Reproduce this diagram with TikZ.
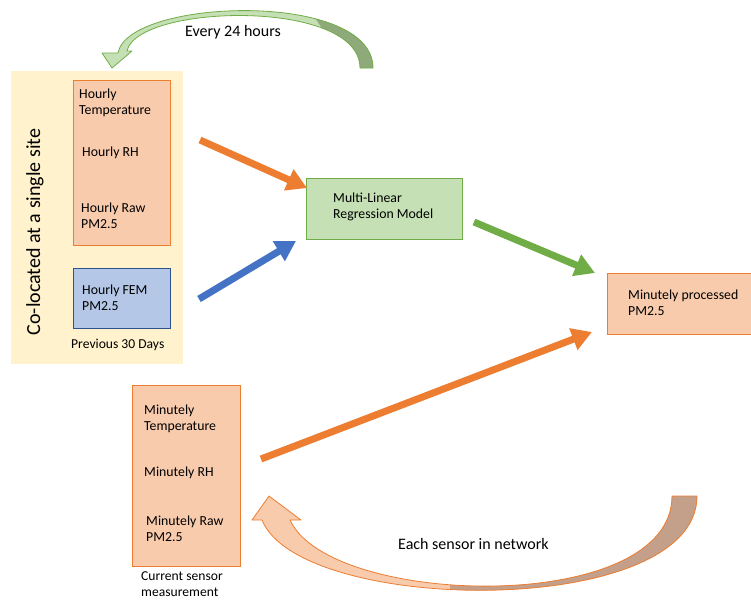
\documentclass[tikz,border=0pt]{standalone}
\usepackage{fontspec}
\setmainfont{Carlito}
\usetikzlibrary{positioning, arrows.meta}
\definecolor{bgyellow}{HTML}{FFF2CC}
\definecolor{orfill}{HTML}{F8CBAD}
\definecolor{orline}{HTML}{ED7D31}
\definecolor{blfill}{HTML}{B4C7E7}
\definecolor{blline}{HTML}{2F528F}
\definecolor{blarrow}{HTML}{4472C4}
\definecolor{grfill}{HTML}{C5E0B4}
\definecolor{grline}{HTML}{70AD47}
\definecolor{grdark}{HTML}{8FAA7A}
\definecolor{ordark}{HTML}{C4A08A}
\tikzset{
  box/.style={rectangle, anchor=north west, inner sep=0pt, line width=1pt},
  lbl/.style={anchor=west, inner sep=0pt, align=left, font=\fontsize{13.8}{16.5}\selectfont},
  small/.style={anchor=west, inner sep=0pt, align=left, font=\fontsize{13.6}{16}\selectfont},
  fat/.style={line width=7pt, -{Triangle[length=20pt,width=22pt]}}
}

\begin{document}
\begin{tikzpicture}[x=1pt, y=-1pt]
        \useasboundingbox (0,0) rectangle (751,600);

        % Site background
        \fill[bgyellow] (11,71) rectangle (183,364);
        \node[rotate=90, inner sep=0pt, font=\fontsize{20}{22}\selectfont] (site) at (35,232) {Co-located at a single site};

        % Boxes
        \node[box, draw=orline, fill=orfill, minimum width=97pt, minimum height=165pt] (hourly) at (73,80) {};
        \node[box, draw=blline, fill=blfill, minimum width=97pt, minimum height=60pt] (fem) at (73,268) {};
        \node[box, draw=grline, fill=grfill, minimum width=156pt, minimum height=61pt] (model) at (306,178) {};
        \node[box, draw=orline, fill=orfill, minimum width=150pt, minimum height=61pt] (out) at (607,273) {};
        \node[box, draw=orline, fill=orfill, minimum width=108pt, minimum height=181pt] (minute) at (132,385) {};

        % Texts
        \node[lbl] (htemp) at (79,103) {Hourly\\Temperature};
        \node[lbl] (hrh) at (82,153) {Hourly RH};
        \node[lbl] (hraw) at (81,216) {Hourly Raw\\PM2.5};
        \node[lbl] (hfem) at (82,298) {Hourly FEM\\PM2.5};
        \node[small] (prev) at (71,345) {Previous 30 Days};
        \node[lbl] (mlr) at (333,207) {Multi-Linear\\Regression Model};
        \node[lbl] (proc) at (628,303) {Minutely processed\\PM2.5};
        \node[lbl] (mtemp) at (144,419) {Minutely\\Temperature};
        \node[lbl] (mrh) at (144,473) {Minutely RH};
        \node[lbl] (mraw) at (146,529) {Minutely Raw\\PM2.5};
        \node[small] (cur) at (141,584) {Current sensor\\measurement};
        \node[lbl, font=\fontsize{16}{18}\selectfont] (every) at (185,32) {Every 24 hours};
        \node[lbl, font=\fontsize{16}{18}\selectfont] (each) at (398,544) {Each sensor in network};

        % Arrow ends
        \coordinate (hourlyout) at (200,140);
        \coordinate (modelin1) at (307,188);
        \coordinate (femout) at (199,299);
        \coordinate (modelin2) at (296,241);
        \coordinate (modelout) at (474,222);
        \coordinate (procin1) at (595,273);
        \coordinate (minuteout) at (261,459);
        \coordinate (procin2) at (592,332);

        % Straight arrows
        \draw[fat, orline] (hourlyout) -- (modelin1);
        \draw[fat, blarrow] (femout) -- (modelin2);
        \draw[fat, grline] (modelout) -- (procin1);
        \draw[fat, orline] (minuteout) -- (procin2);

        % Curved arrow, top
        \fill[grfill] (102,53) -- (112,68) -- (132,51) -- (127,51)
            .. controls (137,4) and (360,-2) .. (360,68) -- (373,68)
            .. controls (373,-10) and (128,-2) .. (118,53) -- cycle;
        \begin{scope}
            \clip (127,51) .. controls (137,4) and (360,-2) .. (360,68) -- (373,68)
                .. controls (373,-10) and (128,-2) .. (118,53) -- cycle;
            \fill[grdark] (300,-5) -- (400,-5) -- (400,80) -- (356,80) -- cycle;
        \end{scope}
        \draw[grline, line width=0.8pt, line join=round] (102,53) -- (112,68) -- (132,51) -- (127,51)
            .. controls (137,4) and (360,-2) .. (360,68) -- (373,68)
            .. controls (373,-10) and (128,-2) .. (118,53) -- cycle;

        % Curved arrow, bottom
        \fill[orfill] (252,520) -- (269,496) -- (301,520) -- (290,520)
            .. controls (330,608) and (672,616) .. (672,496) -- (697,496)
            .. controls (697,620) and (300,615) .. (262,520) -- cycle;
        \begin{scope}
            \clip (290,520) .. controls (330,608) and (672,616) .. (672,496) -- (697,496)
                .. controls (697,620) and (300,615) .. (262,520) -- cycle;
            \fill[ordark] (450,600) -- (450,560) -- (660,480) -- (710,480) -- (710,600) -- cycle;
        \end{scope}
        \draw[orline, line width=0.8pt, line join=round] (252,520) -- (269,496) -- (301,520) -- (290,520)
            .. controls (330,608) and (672,616) .. (672,496) -- (697,496)
            .. controls (697,620) and (300,615) .. (262,520) -- cycle;

    \end{tikzpicture}
\end{document}
